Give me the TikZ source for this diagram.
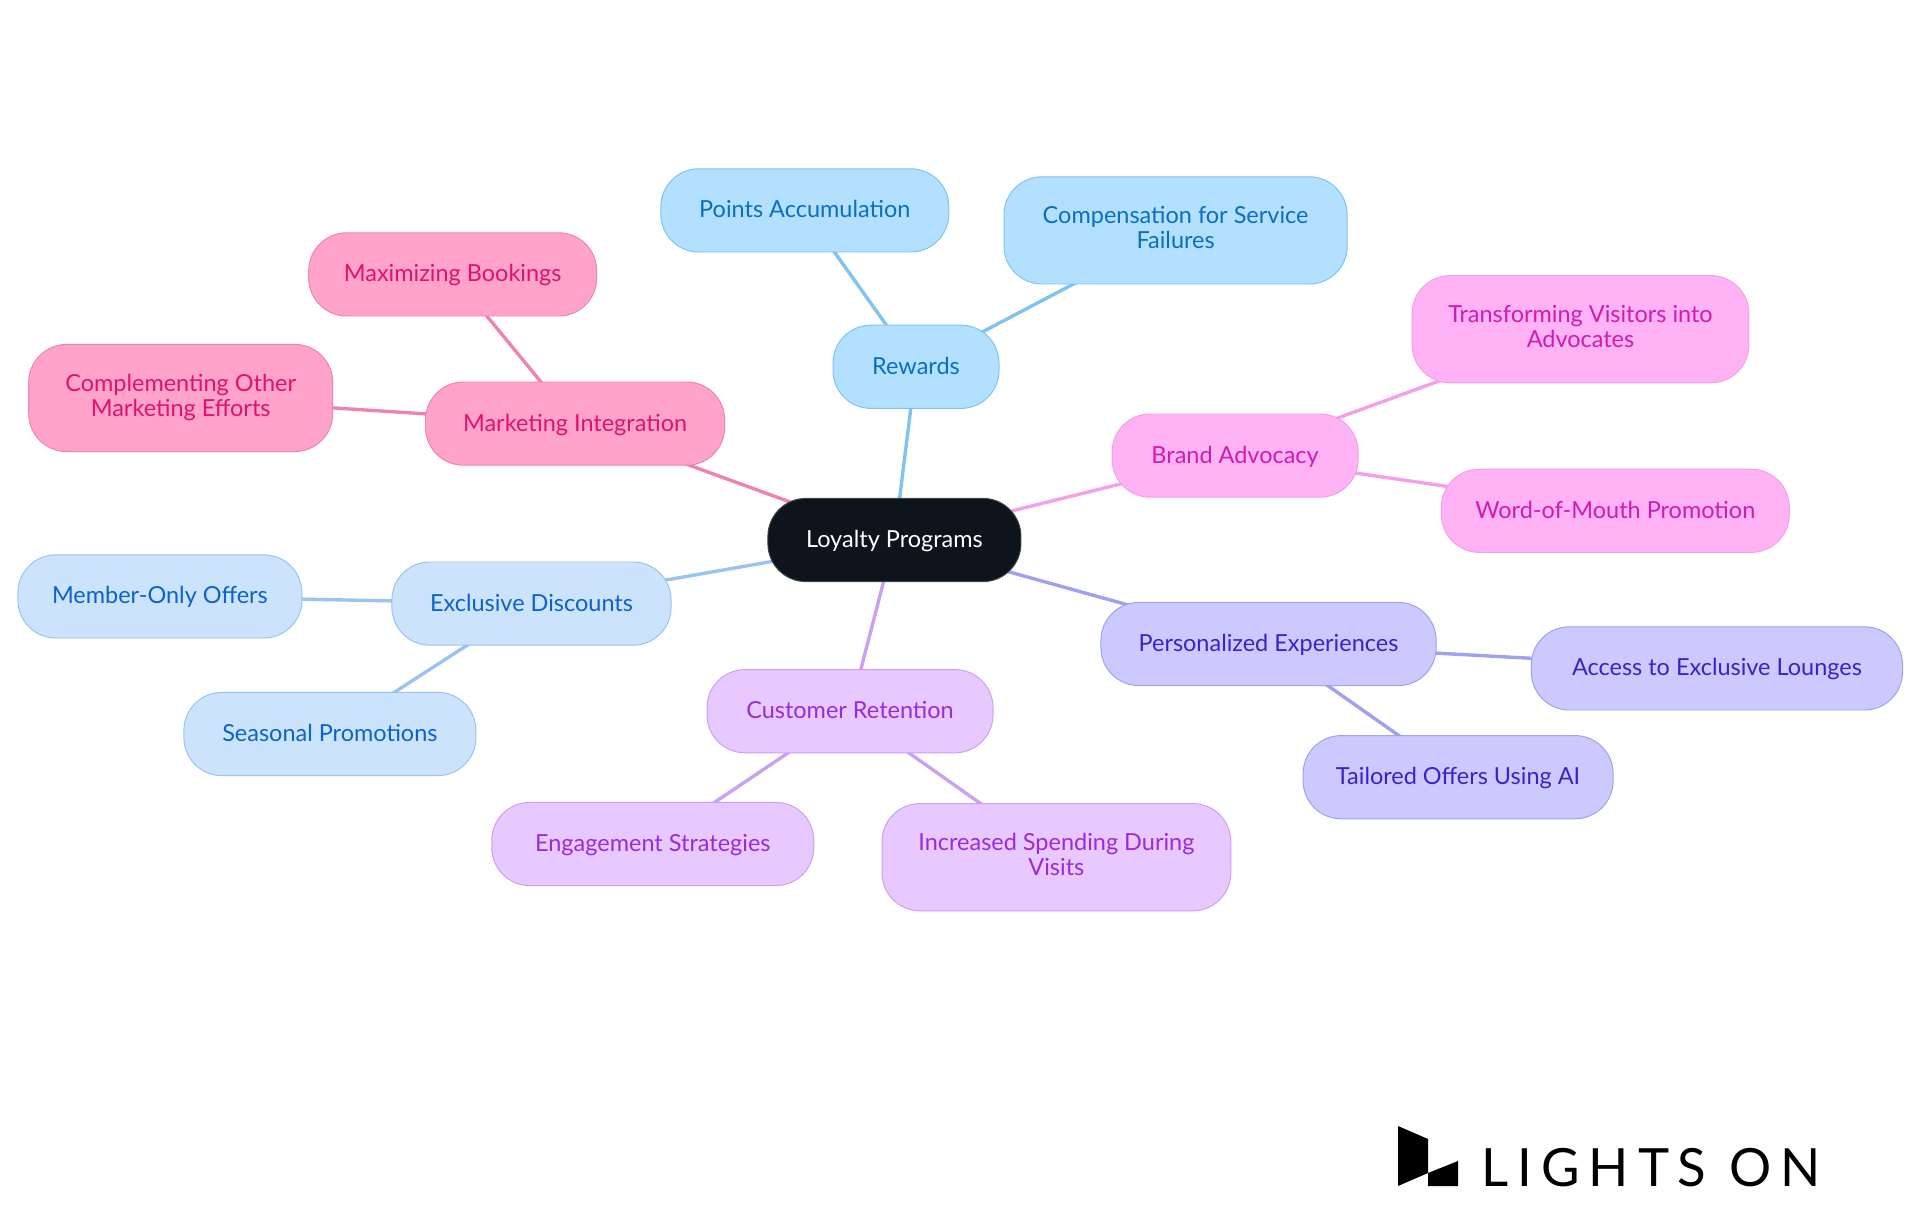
\documentclass[tikz,border=0pt]{standalone}
\usepackage{fontspec}
\setmainfont{Lato}
\newfontfamily\logofont[LetterSpace=17]{Lato}
\usetikzlibrary{positioning,backgrounds}
\newcommand{\ideastrut}{\rule[-3.6pt]{0pt}{17.8pt}}
\definecolor{cRoot}{HTML}{0D141C}
\definecolor{cRootS}{HTML}{3F444A}
\definecolor{cRew}{HTML}{B3E0FF}
\definecolor{cRewS}{HTML}{7FC3F2}
\definecolor{cRewT}{HTML}{0A6FC2}
\definecolor{cAdv}{HTML}{FFB3F5}
\definecolor{cAdvS}{HTML}{F49FE6}
\definecolor{cAdvT}{HTML}{D11BB0}
\definecolor{cPer}{HTML}{CACAFF}
\definecolor{cPerS}{HTML}{A0A0F0}
\definecolor{cPerT}{HTML}{3A22C8}
\definecolor{cRet}{HTML}{E8C9FF}
\definecolor{cRetS}{HTML}{CBA0F0}
\definecolor{cRetT}{HTML}{9A2BDD}
\definecolor{cDis}{HTML}{CCE3FC}
\definecolor{cDisS}{HTML}{99C3F0}
\definecolor{cDisT}{HTML}{0D62CC}
\definecolor{cMkt}{HTML}{FFA3CB}
\definecolor{cMktS}{HTML}{F081B3}
\definecolor{cMktT}{HTML}{E0126F}
\tikzset{
  idea/.style={rectangle,rounded corners=0.95cm,line width=0.7pt,minimum height=2.08cm,outer sep=0pt,inner sep=0pt,align=center,font=\fontsize{16.7}{17.8}\selectfont,execute at begin node=\ideastrut,execute at end node=\ideastrut},
  tall/.style={minimum height=2.68cm},
  rootidea/.style={idea,fill=cRoot,draw=cRootS,text=white},
  rew/.style={idea,fill=cRew,draw=cRewS,text=cRewT},
  adv/.style={idea,fill=cAdv,draw=cAdvS,text=cAdvT},
  per/.style={idea,fill=cPer,draw=cPerS,text=cPerT},
  ret/.style={idea,fill=cRet,draw=cRetS,text=cRetT},
  dis/.style={idea,fill=cDis,draw=cDisS,text=cDisT},
  mkt/.style={idea,fill=cMkt,draw=cMktS,text=cMktT},
  link/.style={line width=2.4pt},
}
\begin{document}
\begin{tikzpicture}
  \useasboundingbox (0,0) rectangle (48,-30.375);
  \node[rootidea,minimum width=6.325cm] (root) at (22.36,-13.5) {Loyalty Programs};

  \node[rew,minimum width=4.15cm,above=2.25cm of root,xshift=0.54cm] (rewards) {Rewards};
  \node[rew,minimum width=7.2cm,above=1.83cm of rewards,xshift=-2.78cm] (points) {Points Accumulation};
  \node[rew,tall,minimum width=8.58cm,above=1.03cm of rewards,xshift=6.49cm] (comp) {Compensation for Service\\Failures};

  \node[adv,minimum width=6.15cm,right=2.28cm of root,yshift=2.11cm] (brand) {Brand Advocacy};
  \node[adv,tall,minimum width=8.42cm,right=1.35cm of brand,yshift=3.16cm] (visitors) {Transforming Visitors into\\Advocates};
  \node[adv,minimum width=8.7cm,right=2.08cm of brand,yshift=-1.38cm] (word) {Word-of-Mouth Promotion};

  \node[per,minimum width=8.38cm,right=2cm of root,yshift=-2.6cm] (personal) {Personalized Experiences};
  \node[per,minimum width=9.28cm,right=2.38cm of personal,yshift=-0.61cm] (lounges) {Access to Exclusive Lounges};
  \node[per,minimum width=7.75cm,below=1.25cm of personal,xshift=4.74cm] (tailored) {Tailored Offers Using AI};

  \node[ret,minimum width=7.15cm,below=2.2cm of root,xshift=-1.11cm] (retention) {Customer Retention};
  \node[ret,minimum width=8.05cm,below=1.24cm of retention,xshift=-4.93cm] (engage) {Engagement Strategies};
  \node[ret,tall,minimum width=8.72cm,below=1.27cm of retention,xshift=5.16cm] (spending) {Increased Spending During\\Visits};

  \node[dis,minimum width=6.98cm,left=2.42cm of root,yshift=-1.59cm] (discounts) {Exclusive Discounts};
  \node[dis,minimum width=7.1cm,left=2.25cm of discounts,yshift=0.18cm] (member) {Member-Only Offers};
  \node[dis,minimum width=7.3cm,below=1.18cm of discounts,xshift=-5.04cm] (seasonal) {Seasonal Promotions};

  \node[mkt,minimum width=7.48cm,left=1.08cm of root,yshift=2.91cm] (market) {Marketing Integration};
  \node[mkt,minimum width=7.2cm,above=1.65cm of market,xshift=-3.06cm] (bookings) {Maximizing Bookings};
  \node[mkt,tall,minimum width=7.6cm,left=2.32cm of market,yshift=0.64cm] (efforts) {Complementing Other\\Marketing Efforts};

  \begin{scope}[on background layer]
    \draw[link,draw=cRewS] (root.center) -- (rewards.center);
    \draw[link,draw=cRewS] (rewards.center) -- (points.center);
    \draw[link,draw=cRewS] (rewards.center) -- (comp.center);
    \draw[link,draw=cAdvS] (root.center) -- (brand.center);
    \draw[link,draw=cAdvS] (brand.center) -- (visitors.center);
    \draw[link,draw=cAdvS] (brand.center) -- (word.center);
    \draw[link,draw=cPerS] (root.center) -- (personal.center);
    \draw[link,draw=cPerS] (personal.center) -- (lounges.center);
    \draw[link,draw=cPerS] (personal.center) -- (tailored.center);
    \draw[link,draw=cRetS] (root.center) -- (retention.center);
    \draw[link,draw=cRetS] (retention.center) -- (engage.center);
    \draw[link,draw=cRetS] (retention.center) -- (spending.center);
    \draw[link,draw=cDisS] (root.center) -- (discounts.center);
    \draw[link,draw=cDisS] (discounts.center) -- (member.center);
    \draw[link,draw=cDisS] (discounts.center) -- (seasonal.center);
    \draw[link,draw=cMktS] (root.center) -- (market.center);
    \draw[link,draw=cMktS] (market.center) -- (bookings.center);
    \draw[link,draw=cMktS] (market.center) -- (efforts.center);
  \end{scope}

  % logo
  \fill[black] (34.95,-28.15) -- (35.7,-28.475) -- (35.7,-29.325) -- (34.95,-29.65) -- cycle;
  \fill[black] (35.7,-29.325) -- (36.45,-29.025) -- (36.45,-29.65) -- (35.7,-29.65) -- cycle;
  \node[anchor=base west,inner sep=0pt,font=\logofont\fontsize{37.5}{40}\selectfont] (logo) at (37.03,-29.65) {LIGHTS ON};
\end{tikzpicture}
\end{document}
